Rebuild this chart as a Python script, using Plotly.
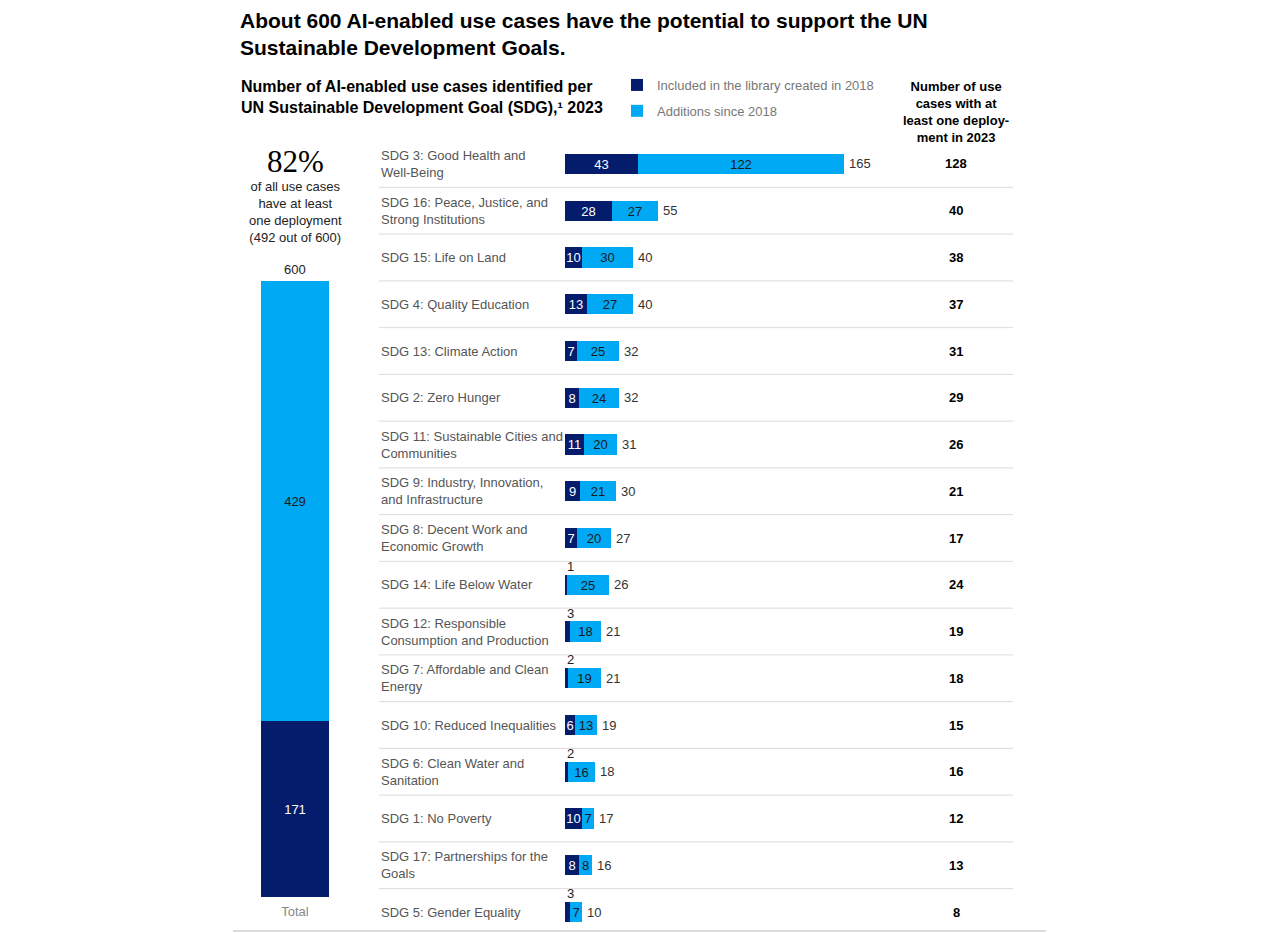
#!/usr/bin/env python3

import plotly.graph_objects as go

W, H = 1280, 933

NAVY = "#051c6c"
SKY = "#00a9f4"

# rows, top to bottom
sdg_keys = [
    "SDG 3", "SDG 16", "SDG 15", "SDG 4", "SDG 13", "SDG 2", "SDG 11", "SDG 9",
    "SDG 8", "SDG 14", "SDG 12", "SDG 7", "SDG 10", "SDG 6", "SDG 1", "SDG 17", "SDG 5",
]
sdg_labels = [
    "SDG 3: Good Health and<br>Well-Being",
    "SDG 16: Peace, Justice, and<br>Strong Institutions",
    "SDG 15: Life on Land",
    "SDG 4: Quality Education",
    "SDG 13: Climate Action",
    "SDG 2: Zero Hunger",
    "SDG 11: Sustainable Cities and<br>Communities",
    "SDG 9: Industry, Innovation,<br>and Infrastructure",
    "SDG 8: Decent Work and<br>Economic Growth",
    "SDG 14: Life Below Water",
    "SDG 12: Responsible<br>Consumption and Production",
    "SDG 7: Affordable and Clean<br>Energy",
    "SDG 10: Reduced Inequalities",
    "SDG 6: Clean Water and<br>Sanitation",
    "SDG 1: No Poverty",
    "SDG 17: Partnerships for the<br>Goals",
    "SDG 5: Gender Equality",
]
in_2018 = [43, 28, 10, 13, 7, 8, 11, 9, 7, 1, 3, 2, 6, 2, 10, 8, 3]
added = [122, 27, 30, 27, 25, 24, 20, 21, 20, 25, 18, 19, 13, 16, 7, 8, 7]
deployed = [128, 40, 38, 37, 31, 29, 26, 21, 17, 24, 19, 18, 15, 16, 12, 13, 8]

total_2018 = 171
total_added = 429
total_all = 600

totals = [a + b for a, b in zip(in_2018, added)]

# the page body adds an 8px margin, so screen pixels are shifted by that
OFF = 8


def px_x(p):
    return (p - OFF) / W


def px_y(p):
    return 1 - (p - OFF) / H


FONT = "Liberation Sans"
n = len(sdg_keys)
row0, row_step = 164, 46.75

fig = go.Figure()

# stacked horizontal bars per SDG
fig.add_trace(go.Bar(
    y=sdg_keys, x=in_2018, orientation="h", xaxis="x2", yaxis="y2",
    name="Included in the library created in 2018", legendgroup="a",
    marker=dict(color=NAVY, line=dict(width=0)), width=0.43,
    text=[str(v) if v >= 5 else "" for v in in_2018],
    textposition="inside", insidetextanchor="middle", textangle=0,
    textfont=dict(color="white", size=13, family=FONT),
    hoverinfo="skip",
))
fig.add_trace(go.Bar(
    y=sdg_keys, x=added, orientation="h", xaxis="x2", yaxis="y2",
    name="Additions since 2018", legendgroup="b",
    marker=dict(color=SKY, line=dict(width=0)), width=0.43,
    text=[str(v) for v in added],
    textposition="inside", insidetextanchor="middle", textangle=0,
    textfont=dict(color="#1a1a1a", size=13, family=FONT),
    hoverinfo="skip",
))

# total column
fig.add_trace(go.Bar(
    x=["Total"], y=[total_2018], xaxis="x3", yaxis="y3", showlegend=False,
    marker=dict(color=NAVY, line=dict(width=0)), width=1,
    text=[str(total_2018)], textposition="inside", insidetextanchor="middle", textangle=0,
    textfont=dict(color="white", size=13, family=FONT), hoverinfo="skip",
))
fig.add_trace(go.Bar(
    x=["Total"], y=[total_added], xaxis="x3", yaxis="y3", showlegend=False,
    marker=dict(color=SKY, line=dict(width=0)), width=1,
    text=[str(total_added)], textposition="inside", insidetextanchor="middle", textangle=0,
    textfont=dict(color="#1a1a1a", size=13, family=FONT), hoverinfo="skip",
))

ann = []
shapes = []

# titles
ann.append(dict(
    text="<b>About 600 AI-enabled use cases have the potential to support the UN<br>"
         "Sustainable Development Goals.</b>",
    x=px_x(239), y=px_y(8), xref="paper", yref="paper", xanchor="left", yanchor="top",
    align="left", showarrow=False, borderpad=0,
    font=dict(size=21, color="#000", family=FONT),
))
ann.append(dict(
    text="<b>Number of AI-enabled use cases identified per<br>"
         "UN Sustainable Development Goal (SDG),¹ 2023</b>",
    x=px_x(239), y=px_y(76), xref="paper", yref="paper", xanchor="left", yanchor="top",
    align="left", showarrow=False, font=dict(size=16, color="#000", family=FONT),
))
ann.append(dict(
    text="<b>Number of use<br>cases with at<br>least one deploy-<br>ment in 2023</b>",
    x=px_x(956), y=px_y(77), xref="paper", yref="paper", xanchor="center", yanchor="top",
    align="center", showarrow=False, font=dict(size=13, color="#000", family=FONT),
))

# left callout
ann.append(dict(
    text="82%", x=px_x(295), y=px_y(162), xref="paper", yref="paper",
    xanchor="center", yanchor="middle", showarrow=False,
    font=dict(size=31, color="#000", family="Liberation Serif"),
))
ann.append(dict(
    text="of all use cases<br>have at least<br>one deployment<br>(492 out of 600)",
    x=px_x(295), y=px_y(177), xref="paper", yref="paper", xanchor="center", yanchor="top",
    align="center", showarrow=False, font=dict(size=13, color="#222", family=FONT),
))
ann.append(dict(
    text=str(total_all), x="Total", y=total_all, xref="x3", yref="y3",
    xanchor="center", yanchor="bottom", yshift=2, showarrow=False,
    font=dict(size=13, color="#222", family=FONT),
))

for i, key in enumerate(sdg_keys):
    ann.append(dict(
        text=sdg_labels[i], x=px_x(379), y=key, xref="paper", yref="y2",
        xanchor="left", yanchor="middle", align="left", showarrow=False,
        font=dict(size=13, color="#555", family=FONT),
    ))
    ann.append(dict(
        text=str(totals[i]), x=totals[i], y=key, xref="x2", yref="y2",
        xanchor="left", yanchor="middle", xshift=3, showarrow=False,
        font=dict(size=13, color="#333", family=FONT),
    ))
    if in_2018[i] < 5:
        ann.append(dict(
            text=str(in_2018[i]), x=0, y=key, xref="x2", yref="y2",
            xanchor="left", yanchor="bottom", yshift=9, showarrow=False,
            font=dict(size=13, color="#222", family=FONT),
        ))
    ann.append(dict(
        text="<b>%d</b>" % deployed[i], x=px_x(956), y=key, xref="paper", yref="y2",
        xanchor="center", yanchor="middle", showarrow=False,
        font=dict(size=13, color="#000", family=FONT),
    ))
    if i < n - 1:
        shapes.append(dict(
            type="line", xref="paper", yref="y2", x0=px_x(379), x1=px_x(1013),
            y0=i + 0.5, y1=i + 0.5, line=dict(color="#dcdcdc", width=1),
        ))

shapes.append(dict(
    type="line", xref="paper", yref="paper", x0=px_x(233), x1=px_x(1046),
    y0=px_y(931), y1=px_y(931), line=dict(color="#dcdcdc", width=2),
))

# axis geometry
bar_x0, bar_x1 = 565, 1013
scale = 279 / 165.0
top_px, bot_px = 141, 931
y_top = (top_px - row0) / row_step
y_bot = (bot_px - row0) / row_step

hidden = dict(showgrid=False, zeroline=False, showticklabels=False, ticks="", showline=False)

fig.update_layout(
    width=W, height=H,
    margin=dict(l=0, r=0, t=0, b=0),
    paper_bgcolor="white", plot_bgcolor="white",
    barmode="stack", bargap=0,
    uniformtext=dict(minsize=12, mode="show"),
    font=dict(family=FONT),
    xaxis=dict(visible=False, domain=[0, 0.01]),
    yaxis=dict(visible=False, domain=[0, 0.01]),
    xaxis2=dict(domain=[px_x(bar_x0), px_x(bar_x1)], range=[0, (bar_x1 - bar_x0) / scale],
                anchor="y2", **hidden),
    yaxis2=dict(domain=[px_y(bot_px), px_y(top_px)], type="category",
                categoryorder="array", categoryarray=sdg_keys,
                range=[y_bot, y_top], anchor="x2", **hidden),
    xaxis3=dict(domain=[px_x(261), px_x(329)], range=[-0.5, 0.5], anchor="y3",
                showgrid=False, zeroline=False, ticks="", showline=False,
                ticklabelstandoff=5,
                tickfont=dict(size=13, color="#888", family=FONT)),
    yaxis3=dict(domain=[px_y(897), px_y(281)], range=[0, total_all], anchor="x3", **hidden),
    legend=dict(
        x=px_x(617), y=px_y(70), xanchor="left", yanchor="top",
        bgcolor="rgba(0,0,0,0)", tracegroupgap=6, traceorder="grouped",
        font=dict(size=13, color="#777", family=FONT),
    ),
    annotations=ann,
    shapes=shapes,
)

fig.write_html("out.html")
